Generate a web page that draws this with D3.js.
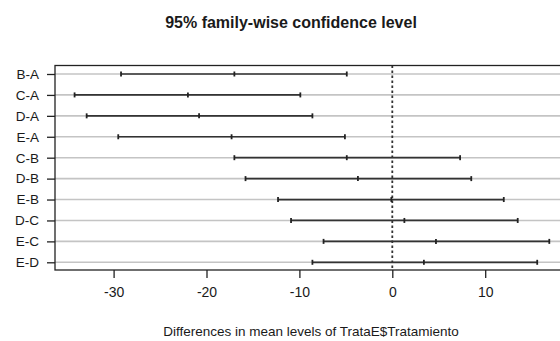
<!DOCTYPE html>
<html>
<head>
<meta charset="utf-8">
<script src="https://cdn.jsdelivr.net/npm/d3@7"></script>
<style>
  body { margin: 0; background: #fff; }
  text { font-family: "Liberation Sans", Arial, sans-serif; fill: #1a1a1a; }
</style>
</head>
<body>
<svg id="chart" width="560" height="341"></svg>
<script>
    // Tukey HSD comparisons
    var comparisons = ["B-A", "C-A", "D-A", "E-A", "C-B", "D-B", "E-B", "D-C", "E-C", "E-D"];
    var diffs = [-17.0, -22.0, -20.8, -17.3, -4.9, -3.7, -0.1, 1.3, 4.7, 3.4];
    var lowers = [-29.2, -34.2, -32.9, -29.5, -17.0, -15.8, -12.3, -10.9, -7.4, -8.6];
    var uppers = [-4.9, -9.9, -8.6, -5.1, 7.3, 8.5, 12.0, 13.5, 16.9, 15.6];
    var xTicks = [-30, -20, -10, 0, 10];

    var svg = d3.select("#chart");
    var box = { left: 55, top: 65.5, right: 600, bottom: 270 };

    var x = d3.scaleLinear().domain([0, 10]).range([392.3, 485.2]);
    var y = d3.scalePoint().domain(comparisons).range([74, 262.3]);

    // title
    svg.append("text")
        .attr("x", 291).attr("y", 28)
        .attr("text-anchor", "middle")
        .style("font-size", "16px").style("font-weight", "bold")
        .text("95% family-wise confidence level");

    // gray guide lines per row
    svg.append("g").selectAll("line").data(comparisons).join("line")
        .attr("x1", box.left).attr("x2", box.right)
        .attr("y1", function(d) { return y(d); }).attr("y2", function(d) { return y(d); })
        .attr("stroke", "#c4c4c4").attr("stroke-width", 1.6);

    // zero reference
    svg.append("line")
        .attr("x1", x(0)).attr("x2", x(0))
        .attr("y1", box.top).attr("y2", box.bottom)
        .attr("stroke", "#333").attr("stroke-width", 1.8)
        .attr("stroke-dasharray", "2.5,2.5");

    // intervals
    var rows = comparisons.map(function(c, i) {
        return { name: c, diff: diffs[i], lwr: lowers[i], upr: uppers[i] };
    });
    var g = svg.append("g").selectAll("g").data(rows).join("g")
        .attr("transform", function(d) { return "translate(0," + y(d.name) + ")"; });
    g.append("line")
        .attr("x1", function(d) { return x(d.lwr); })
        .attr("x2", function(d) { return x(d.upr); })
        .attr("stroke", "#333").attr("stroke-width", 1.7);
    ["lwr", "diff", "upr"].forEach(function(k) {
        g.append("line")
            .attr("x1", function(d) { return x(d[k]); })
            .attr("x2", function(d) { return x(d[k]); })
            .attr("y1", -2.5).attr("y2", 2.5)
            .attr("stroke", "#222").attr("stroke-width", 1.8);
    });

    // frame
    svg.append("rect")
        .attr("x", box.left).attr("y", box.top)
        .attr("width", box.right - box.left).attr("height", box.bottom - box.top)
        .attr("fill", "none").attr("stroke", "#222").attr("stroke-width", 1.3);

    // x axis (R prints a plain hyphen for negatives)
    var xAxis = svg.append("g")
        .attr("transform", "translate(0," + box.bottom + ")")
        .call(d3.axisBottom(x).tickValues(xTicks).tickSize(8).tickPadding(9)
            .tickFormat(function(d) { return String(d); }));
    xAxis.select(".domain").remove();
    xAxis.selectAll("line").attr("stroke", "#222").attr("stroke-width", 1.3);
    xAxis.selectAll("text").style("font-size", "14px").attr("fill", "#1a1a1a");

    // y axis
    var yAxis = svg.append("g")
        .attr("transform", "translate(" + box.left + ",0)")
        .call(d3.axisLeft(y).tickSize(8).tickPadding(8));
    yAxis.select(".domain").remove();
    yAxis.selectAll("line").attr("stroke", "#222").attr("stroke-width", 1.3);
    yAxis.selectAll("text").style("font-size", "13.5px").attr("fill", "#1a1a1a");

    // x axis title
    svg.append("text")
        .attr("x", 311).attr("y", 336)
        .attr("text-anchor", "middle")
        .style("font-size", "13.5px")
        .text("Differences in mean levels of TrataE$Tratamiento");
</script>
</body>
</html>
